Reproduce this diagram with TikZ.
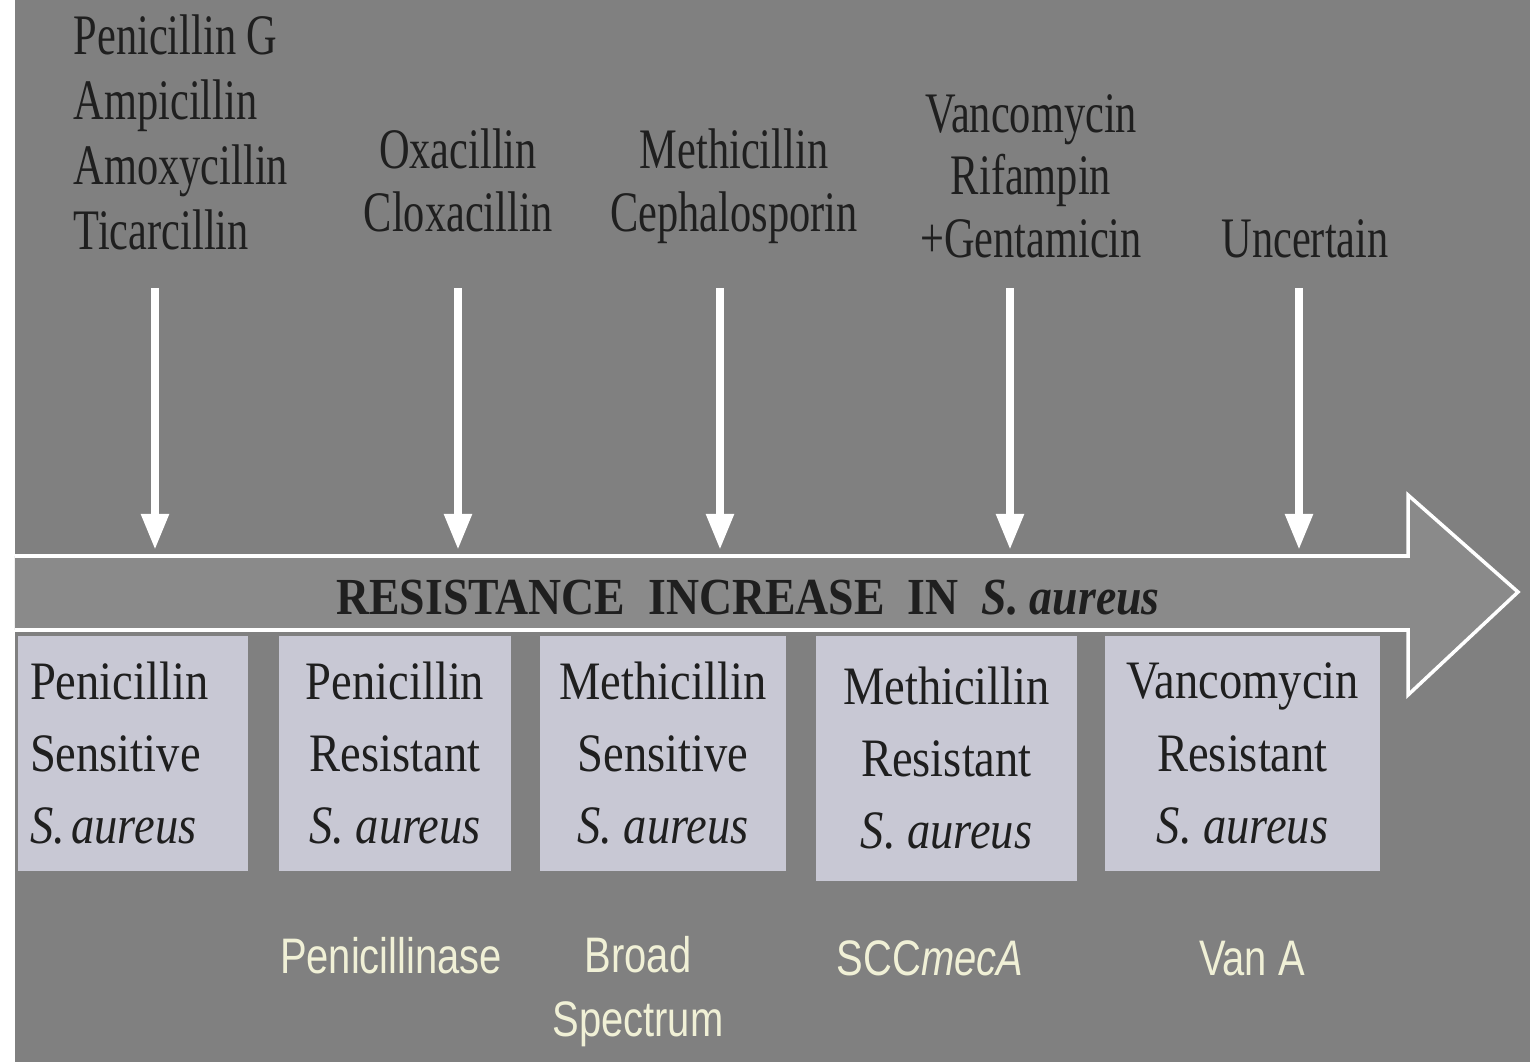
\documentclass[tikz,border=0pt]{standalone}
\usepackage{fontspec}
\setmainfont{Liberation Serif}
\newfontfamily\drugfont[FakeStretch=0.74]{Liberation Serif}
\newfontfamily\strainfont[FakeStretch=0.86]{Liberation Serif}
\newfontfamily\trendfont[FakeStretch=0.88]{Liberation Serif}
\newfontfamily\genefont[FakeStretch=0.80]{Liberation Sans}
\usepackage{tikz}
\usetikzlibrary{arrows.meta}
\definecolor{slide}{gray}{0.50}
\definecolor{bandgray}{gray}{0.54}
\definecolor{strainfill}{RGB}{200,200,212}
\definecolor{genetext}{RGB}{240,240,214}
\definecolor{inkgray}{gray}{0.12}

\begin{document}
\begin{tikzpicture}[
  strain/.style={fill=strainfill,minimum height=2.35cm,align=center,inner sep=0pt,text=inkgray,font=\strainfont\fontsize{15.4}{20.5}\selectfont},
  drug/.style={align=center,inner sep=0pt,text depth=0pt,anchor=south,text=inkgray,font=\drugfont\fontsize{16.3}{17.8}\selectfont},
  gene/.style={align=center,inner sep=0pt,text depth=0pt,anchor=south,text=genetext,font=\genefont\fontsize{14.2}{18.2}\selectfont},
  trend/.style={inner sep=0pt,anchor=base,text=inkgray,font=\trendfont\bfseries\fontsize{14.8}{16}\selectfont},
  push/.style={white,line width=2.3pt,-{Triangle[length=3.6mm,width=2.6mm]}}
]
\useasboundingbox (0,0) rectangle (15.3,10.62);
\fill[slide] (0,0) rectangle (15.3,10.62);
\fill[white] (0,0) rectangle (0.15,10.62);

% big arrow
\fill[bandgray] (0.15,4.32) -- (14.08,4.32) -- (14.08,3.67) -- (15.18,4.70)
  -- (14.08,5.67) -- (14.08,5.06) -- (0.15,5.06) -- cycle;
\draw[white,line width=1pt] (0.15,4.32) -- (14.08,4.32) -- (14.08,3.67) -- (15.18,4.70)
  -- (14.08,5.67) -- (14.08,5.06) -- (0.15,5.06);
\node[trend] (trend) at (7.48,4.47) {RESISTANCE\ \ INCREASE\ \ IN\ \ \textit{S. aureus}};

% strains
\node[strain,align=left,text width=2.06cm,inner xsep=0.12cm] (pss) at (1.33,3.085) {Penicillin\\Sensitive\\\textit{S.\kern0.12em aureus}};
\node[strain,minimum width=2.32cm] (prs) at (3.95,3.085) {Penicillin\\Resistant\\\textit{S. aureus}};
\node[strain,minimum width=2.46cm] (mss) at (6.63,3.085) {Methicillin\\Sensitive\\\textit{S. aureus}};
\node[strain,minimum width=2.61cm,minimum height=2.45cm] (mrs) at (9.465,3.035) {Methicillin\\Resistant\\\textit{S. aureus}};
\node[strain,minimum width=2.75cm] (vrs) at (12.425,3.085) {Vancomycin\\Resistant\\\textit{S. aureus}};

% drugs
\node[drug,align=left,anchor=south west,font=\drugfont\fontsize{16.3}{18.5}\selectfont] (penG) at (0.73,8.12)
  {Penicillin G\\Ampicillin\\Amoxycillin\\Ticarcillin};
\node[drug] (oxa) at (4.58,8.30) {Oxacillin\\Cloxacillin};
\node[drug] (meth) at (7.34,8.30) {Methicillin\\Cephalosporin};
\node[drug] (vanc) at (10.31,8.04) {Vancomycin\\Rifampin\\+Gentamicin};
\node[drug] (unc) at (13.05,8.04) {Uncertain};

\foreach \x [count=\i] in {1.55,4.58,7.20,10.10,12.99} {
  \coordinate (from\i) at (\x,7.74);
  \coordinate (to\i) at (\x,5.12);
  \draw[push] (from\i) -- (to\i);
}

% mechanisms
\node[gene] (pase) at (3.91,0.88) {Penicillinase};
\node[gene] (broad) at (6.38,0.25) {Broad\\Spectrum};
\node[gene] (scc) at (9.30,0.86) {SCC\textit{mecA}};
\node[gene] (vanA) at (12.52,0.86) {Van A};
\end{tikzpicture}
\end{document}
